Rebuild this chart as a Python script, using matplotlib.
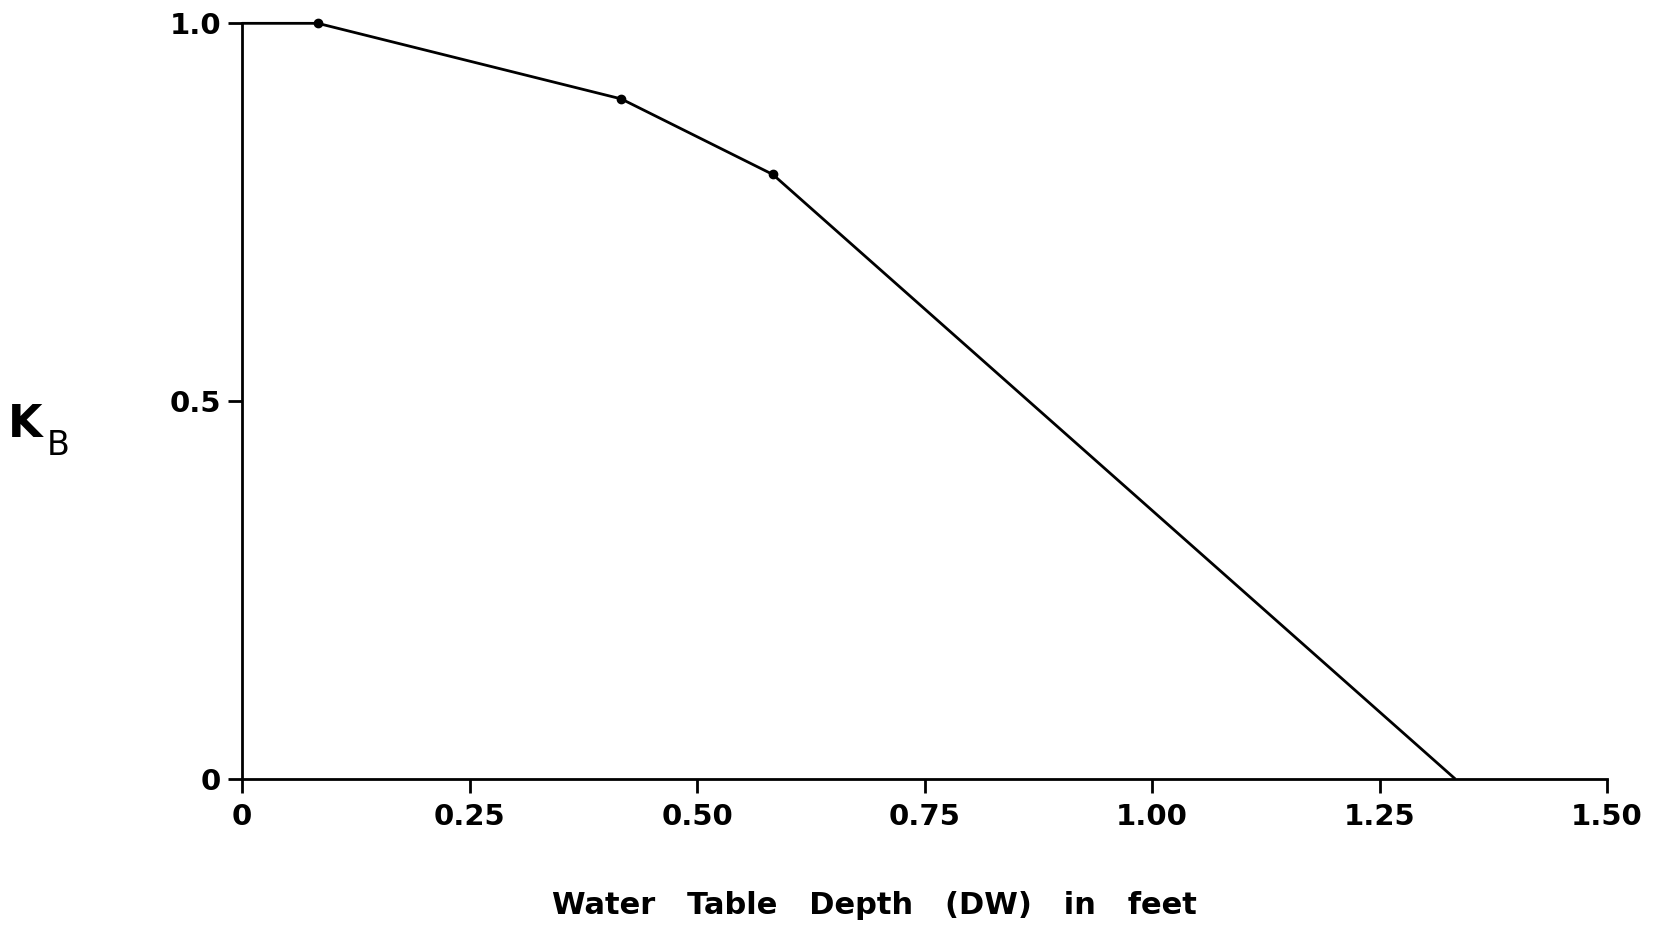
# -*- coding: utf-8 -*-
"""
K_B versus water table depth
"""

from matplotlib import pyplot as plt

# data
depth_ft = [0.0, 0.0833, 0.4167, 0.5833, 1.3333]   # water table depth (DW) in feet
kb = [1.0, 1.0, 0.9, 0.8, 0.0]                     # K_B coefficient
marked = [1, 2, 3]                                  # points drawn with a dot

x_ticks = [0, 0.25, 0.50, 0.75, 1.00, 1.25, 1.50]
x_labels = ["0", "0.25", "0.50", "0.75", "1.00", "1.25", "1.50"]
y_ticks = [0, 0.5, 1.0]
y_labels = ["0", "0.5", "1.0"]

tick_font = {"family": "DejaVu Sans", "weight": "bold", "size": 21}

fig = plt.figure(figsize=(16.6, 9.33), dpi=100)
ax = fig.add_axes([0.1458, 0.165, 0.8223, 0.810])

ax.plot(depth_ft, kb, color="black", lw=2.0, clip_on=False, solid_capstyle="butt")
ax.plot([depth_ft[i] for i in marked], [kb[i] for i in marked], "o",
        color="black", markersize=6, clip_on=False)

ax.set_xlim(0, 1.5)
ax.set_ylim(0, 1.0)

# only left and bottom axes
ax.spines["top"].set_visible(False)
ax.spines["right"].set_visible(False)
for s in ["left", "bottom"]:
    ax.spines[s].set_linewidth(2.0)

ax.set_xticks(x_ticks)
ax.set_xticklabels(x_labels, fontdict=tick_font)
ax.set_yticks(y_ticks)
ax.set_yticklabels(y_labels, fontdict=tick_font)
ax.tick_params(axis="x", direction="out", length=10, width=2.0, pad=7)
ax.tick_params(axis="y", direction="out", length=10, width=2.0, pad=5)

fig.text(0.527, 0.029, "Water   Table   Depth   (DW)   in   feet",
         ha="center", va="center", fontsize=22, family="DejaVu Sans", weight="semibold")
fig.text(0.005, 0.545, "K", ha="left", va="center", fontsize=32, family="DejaVu Sans",
         weight="semibold")
fig.text(0.028, 0.523, "B", ha="left", va="center", fontsize=24, family="DejaVu Sans")

fig.savefig("out.png", dpi=100, facecolor="white")
